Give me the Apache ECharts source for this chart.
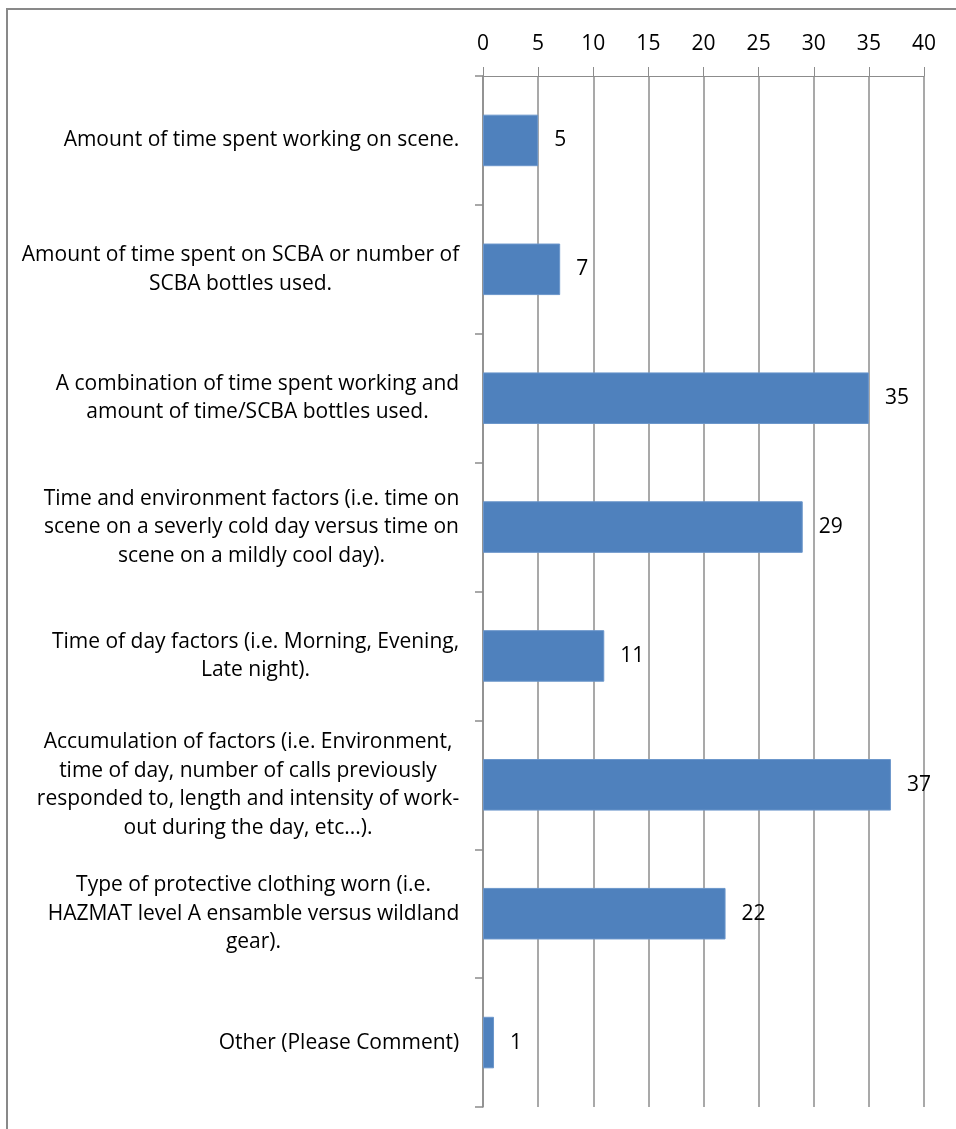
<!DOCTYPE html>
<html>
<head>
<meta charset="utf-8">
<script src="https://cdn.jsdelivr.net/npm/echarts@6/dist/echarts.min.js"></script>
<style>
  html, body { margin: 0; padding: 0; background: #fff; overflow: hidden; }
  #frame { position: absolute; left: 6px; top: 8px; width: 1100px; height: 1300px;
           border: 2px solid #898989; box-sizing: border-box; }
  #chart { position: absolute; left: 0; top: 0; width: 956px; height: 1129px; }
</style>
</head>
<body>
<div id="frame"></div>
<div id="chart"></div>
<script>
// Survey answers: what determines firefighter rehab need
const categories = [
  "Amount of time spent working on scene.",
  "Amount of time spent on SCBA or number of\nSCBA bottles used.",
  "A combination of time spent working and\namount of time/SCBA bottles used.",
  "Time and environment factors (i.e. time on\nscene on a severly cold day versus time on\nscene on a mildly cool day).",
  "Time of day factors (i.e. Morning, Evening,\nLate night).",
  "Accumulation of factors (i.e. Environment,\ntime of day, number of calls previously\nresponded to, length and intensity of work-\nout during the day, etc...).",
  "Type of protective clothing worn (i.e.\nHAZMAT level A ensamble versus wildland\ngear).",
  "Other (Please Comment)"
];
const responses = [5, 7, 35, 29, 11, 37, 22, 1];
const valueTicks = [0, 5, 10, 15, 20, 25, 30, 35, 40];

const FONT = '"Open Sans", sans-serif';
const FONT_SIZE = 21;

// Each multi-line label is centred within its own widest line,
// with the block right-aligned against the axis.
const ctx = document.createElement('canvas').getContext('2d');
ctx.font = FONT_SIZE + 'px ' + FONT;
const rich = {};
categories.forEach((c, i) => {
  const w = Math.max(...c.split('\n').map(l => ctx.measureText(l).width));
  rich['c' + i] = { width: Math.ceil(w) + 1, align: 'center', fontFamily: FONT,
                    fontSize: FONT_SIZE, lineHeight: 28.5, color: '#000' };
});

const chart = echarts.init(document.getElementById('chart'));
chart.setOption({
  animation: false,
  grid: { left: 483, right: 32, top: 76, bottom: 22, containLabel: false },
  xAxis: {
    type: 'value', position: 'top', min: valueTicks[0],
    max: valueTicks[valueTicks.length - 1], interval: 5,
    axisLine: { show: true, lineStyle: { color: '#8c8c8c', width: 1 } },
    axisTick: { show: true, length: 9, lineStyle: { color: '#8c8c8c' } },
    splitLine: { show: true, lineStyle: { color: '#8c8c8c', width: 1.5 } },
    axisLabel: { margin: 21, color: '#000', fontFamily: FONT, fontSize: FONT_SIZE }
  },
  yAxis: {
    type: 'category', inverse: true, data: categories,
    axisLine: { show: true, lineStyle: { color: '#8c8c8c', width: 1.5 } },
    axisTick: { show: true, length: 8, alignWithLabel: false,
                lineStyle: { color: '#8c8c8c', width: 1.5 } },
    axisLabel: {
      margin: 23, interval: 0,
      formatter: (v, i) => v.split('\n').map(l => '{c' + i + '|' + l + '}').join('\n'),
      rich: rich
    }
  },
  series: [{
    type: 'bar', data: responses, barWidth: '40%',
    itemStyle: { color: '#4f81bd', borderColor: '#6b96cb', borderWidth: 1 },
    label: { show: true, position: 'right', distance: 16, color: '#000',
             fontFamily: FONT, fontSize: FONT_SIZE }
  }]
});
</script>
</body>
</html>
